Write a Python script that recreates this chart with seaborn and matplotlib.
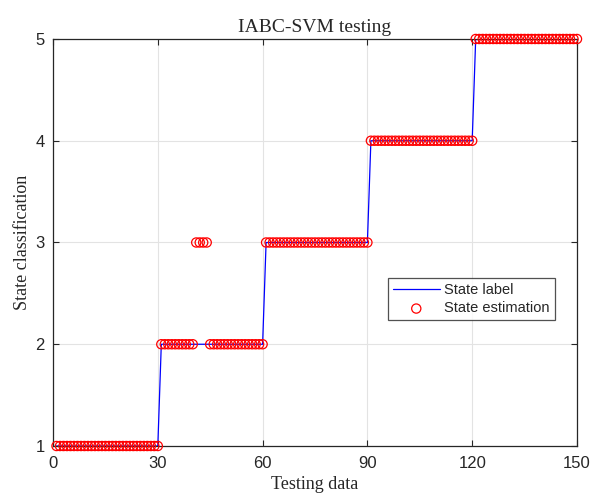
import numpy as np
import pandas as pd
import matplotlib
matplotlib.use("Agg")
import matplotlib.pyplot as plt
import seaborn as sns

sns.set_style("white")
plt.rcParams['font.family'] = ['Liberation Sans', 'DejaVu Sans']

# data
sample_index = list(range(1, 151))
state_label = [1] * 30 + [2] * 30 + [3] * 30 + [4] * 30 + [5] * 30
state_estimation = ([1] * 30 + [2] * 10 + [3] * 4 + [2] * 16 +
                    [3] * 30 + [4] * 30 + [5] * 30)
x_ticks = [0, 30, 60, 90, 120, 150]
y_ticks = [1, 2, 3, 4, 5]

df = pd.DataFrame({"x": sample_index, "label": state_label, "est": state_estimation})

fig = plt.figure(figsize=(5.93, 4.96), dpi=100)
ax = fig.add_axes([0.0894, 0.1008, 0.8836, 0.8206])

sns.lineplot(data=df, x="x", y="label", ax=ax, color="blue", linewidth=0.9,
             label="State label", zorder=2)
sns.scatterplot(data=df, x="x", y="est", ax=ax, marker="o", s=44,
                facecolors="none", edgecolor="red", linewidth=0.9,
                label="State estimation", zorder=3, clip_on=False)
coll = ax.collections[-1]
coll.set_facecolor("none")
coll.set_edgecolor("red")
coll.set_clip_on(False)

ax.set_xlim(0, 150)
ax.set_ylim(1, 5)
ax.set_xticks(x_ticks)
ax.set_yticks(y_ticks)
ax.grid(True, color="#e3e3e3", linewidth=0.8)
ax.set_axisbelow(True)
for s in ax.spines.values():
    s.set_color("#262626")
    s.set_linewidth(0.9)
ax.tick_params(axis="both", labelsize=12, colors="#262626", direction="in",
               length=4, width=0.8, top=True, right=True, bottom=True, left=True,
               labeltop=False, labelright=False)
ax.tick_params(axis="x", pad=7)
ax.tick_params(axis="y", pad=6)
for t in ax.get_xticklabels() + ax.get_yticklabels():
    t.set_color("#262626")

ax.set_title("IABC-SVM testing", fontsize=14, family="Liberation Serif", color="#262626", pad=5)
ax.set_xlabel("Testing data", fontsize=13, family="Liberation Serif", color="#262626", labelpad=4)
ax.set_ylabel("State classification", fontsize=13, family="Liberation Serif", color="#262626", labelpad=3)

leg = ax.legend(loc="upper left", bbox_to_anchor=(0.639, 0.413),
                fontsize=10.5, frameon=True, fancybox=False, edgecolor="#262626",
                borderaxespad=0, handlelength=3.2, handletextpad=0.3,
                borderpad=0.35, labelspacing=0.3)
leg.get_frame().set_linewidth(0.9)

fig.savefig("out.png", dpi=100)
